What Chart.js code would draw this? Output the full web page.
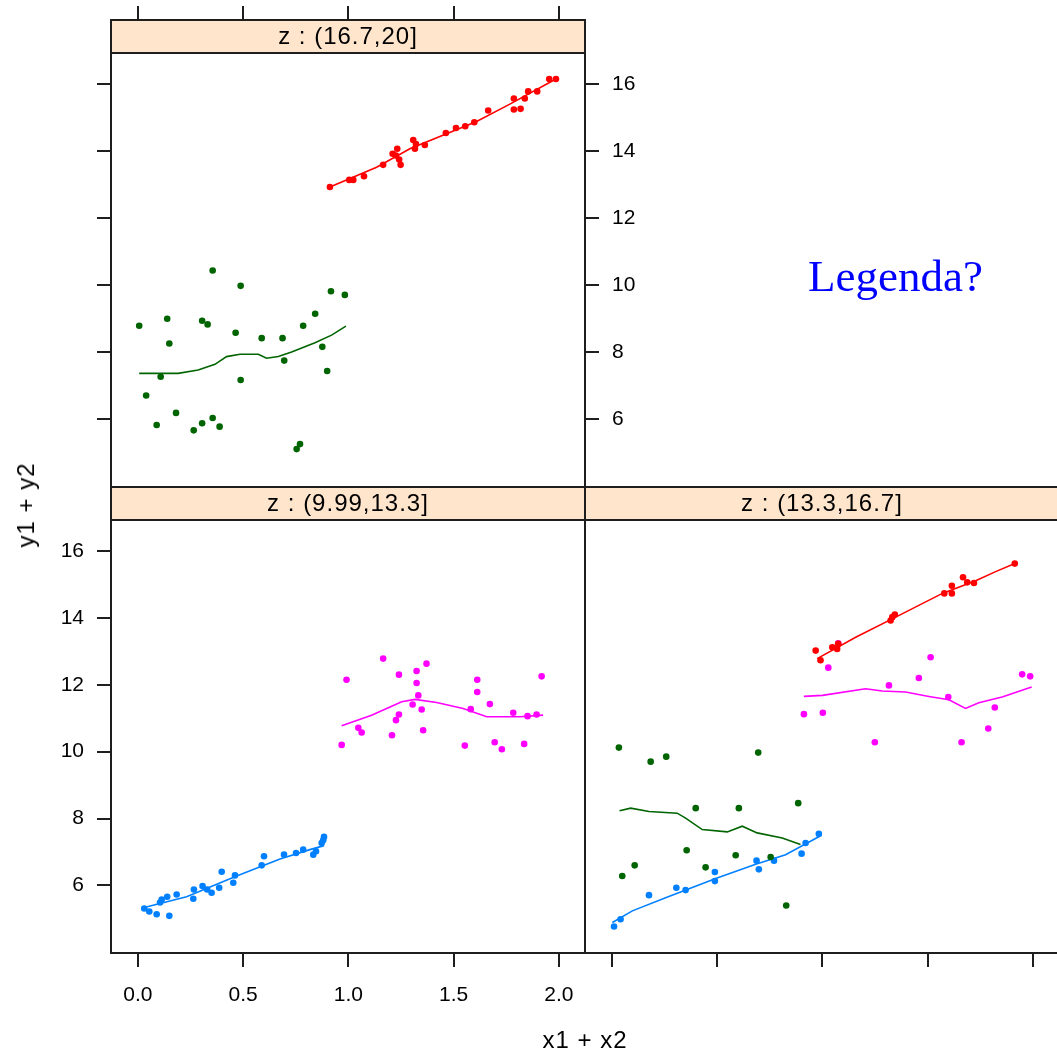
<!DOCTYPE html>
<html><head><meta charset="utf-8">
<script src="https://cdn.jsdelivr.net/npm/chart.js@4.4.1/dist/chart.umd.min.js"></script>
<style>
html,body{margin:0;padding:0;background:#fff;overflow:hidden;width:1057px;height:1052px;position:relative;}
canvas{position:absolute;left:0;top:0;}
.lbl{position:absolute;font-family:"Liberation Sans",Arial,sans-serif;font-size:24px;color:#000;white-space:nowrap;letter-spacing:1px;line-height:28px;}
#legenda{position:absolute;left:808px;top:254px;font-family:"Liberation Serif","Times New Roman",serif;font-size:45px;line-height:45px;color:#0000FF;white-space:nowrap;}
</style></head><body>
<canvas id="tl" width="1070" height="1052"></canvas>
<canvas id="bl" width="1070" height="1052"></canvas>
<canvas id="br" width="1070" height="1052"></canvas>
<div id="legenda">Legenda?</div>
<div class="lbl" id="xlab" style="left:585px;top:1026px;transform:translateX(-50%);">x1 + x2</div>
<div class="lbl" id="ylab" style="left:26px;top:505px;transform:translate(-50%,-50%) rotate(-90deg);">y1 + y2</div>
<script>
// ---- tick values / labels ----
const xTickValues = [0, 0.5, 1.0, 1.5, 2.0];
const xTickLabels = ["0.0", "0.5", "1.0", "1.5", "2.0"];
const yTickValues = [6, 8, 10, 12, 14, 16];
const yTickLabels = ["6", "8", "10", "12", "14", "16"];
const stripTL = "z : (16.7,20]";
const stripBL = "z : (9.99,13.3]";
const stripBR = "z : (13.3,16.7]";

// ---- top-left panel z:(16.7,20] ----
const tlRedX = [0.912,1.004,1.023,1.074,1.165,1.210,1.232,1.226,1.241,1.248,1.308,1.321,1.316,1.363,1.463,1.511,1.555,1.598,1.664,1.786,1.818,1.786,1.838,1.854,1.897,1.954,1.986];
const tlRedY = [12.93,13.14,13.14,13.25,13.59,13.92,14.07,13.87,13.75,13.59,14.33,14.21,14.07,14.18,14.54,14.69,14.74,14.86,15.21,15.24,15.26,15.57,15.57,15.78,15.78,16.15,16.15];
const tlRedLineX = [0.912,1.134,1.292,1.609,1.767,1.986];
const tlRedLineY = [12.93,13.52,14.07,14.88,15.40,16.15];
const tlGreenX = [0.355,0.488,0.917,0.983,0.006,0.139,0.305,0.331,0.464,0.588,0.687,0.785,0.842,0.149,0.876,0.695,0.899,0.108,0.488,0.039,0.181,0.089,0.265,0.305,0.355,0.388,0.770,0.754];
const tlGreenY = [10.44,9.98,9.82,9.71,8.79,9.00,8.94,8.83,8.58,8.42,8.42,8.79,9.15,8.26,8.16,7.75,7.44,7.27,7.17,6.71,6.19,5.83,5.67,5.88,6.04,5.78,5.26,5.11];
const tlGreenLineX = [0.006,0.191,0.286,0.366,0.421,0.485,0.572,0.611,0.667,0.730,0.841,0.920,0.988];
const tlGreenLineY = [7.37,7.37,7.47,7.64,7.87,7.94,7.94,7.82,7.87,8.01,8.28,8.51,8.78];

// ---- bottom-left panel z:(9.99,13.3] ----
const blBlueX = [0.030,0.054,0.089,0.149,0.105,0.113,0.139,0.184,0.263,0.266,0.307,0.329,0.350,0.386,0.398,0.453,0.461,0.588,0.599,0.694,0.751,0.785,0.833,0.846,0.873,0.884,0.880];
const blBlueY = [5.31,5.22,5.14,5.09,5.49,5.58,5.66,5.73,5.60,5.88,5.98,5.88,5.78,5.93,6.41,6.08,6.30,6.60,6.87,6.92,6.97,7.07,6.92,7.02,7.27,7.45,7.35];
const blBlueLineX = [0.030,0.231,0.469,0.675,0.817,0.884];
const blBlueLineY = [5.34,5.66,6.28,6.79,7.07,7.19];
const blMagX = [1.165,1.371,1.324,1.240,0.991,1.918,1.612,1.324,1.612,1.332,1.305,1.348,1.672,1.581,1.783,1.851,1.894,1.240,1.226,1.047,1.063,1.355,1.207,0.968,1.553,1.695,1.729,1.835];
const blMagY = [12.78,12.63,12.41,12.30,12.15,12.25,12.15,12.05,11.78,11.68,11.41,11.26,11.42,11.27,11.16,11.06,11.11,11.11,10.94,10.71,10.57,10.64,10.49,10.20,10.18,10.28,10.07,10.23];
const blMagLineX = [0.968,1.110,1.253,1.316,1.419,1.545,1.657,1.815,1.925];
const blMagLineY = [10.77,11.09,11.49,11.56,11.47,11.29,11.04,11.04,11.09];

// ---- bottom-right panel z:(13.3,16.7] ----
const brGreenX = [0.033,0.184,0.258,0.695,0.398,0.603,0.885,0.355,0.588,0.754,0.108,0.049,0.445,0.828];
const brGreenY = [10.12,9.70,9.85,9.97,8.31,8.31,8.46,7.05,6.90,6.85,6.60,6.28,6.54,5.40];
const brGreenLineX = [0.036,0.089,0.176,0.310,0.350,0.429,0.548,0.619,0.690,0.809,0.896];
const brGreenLineY = [8.23,8.31,8.21,8.16,8.01,7.67,7.60,7.77,7.57,7.42,7.22];
const brBlueX = [0.010,0.041,0.176,0.306,0.350,0.489,0.489,0.687,0.698,0.770,0.901,0.920,0.983];
const brBlueY = [4.77,4.99,5.71,5.93,5.86,6.40,6.13,6.74,6.48,6.74,6.95,7.27,7.54];
const brBlueLineX = [0.002,0.097,0.255,0.493,0.683,0.825,0.987];
const brBlueLineY = [4.89,5.24,5.63,6.21,6.63,6.92,7.47];
const brRedX = [0.968,0.991,1.047,1.070,1.075,1.324,1.344,1.332,1.579,1.615,1.615,1.668,1.688,1.720,1.914];
const brRedY = [13.02,12.73,13.12,13.07,13.22,13.92,14.10,14.02,14.73,14.96,14.73,15.21,15.06,15.04,15.62];
const brRedLineX = [0.975,1.158,1.348,1.570,1.728,1.823,1.914];
const brRedLineY = [12.78,13.42,14.02,14.73,15.11,15.38,15.62];
const brMagX = [1.075,1.028,1.514,1.458,1.316,1.949,1.987,1.598,0.912,1.002,1.819,1.788,1.249,1.661];
const brMagY = [13.24,12.51,12.82,12.20,11.98,12.31,12.25,11.63,11.12,11.16,11.32,10.69,10.28,10.28];
const brMagLineX = [0.912,1.000,1.205,1.284,1.395,1.506,1.601,1.680,1.743,1.854,1.994];
const brMagLineY = [11.65,11.68,11.88,11.81,11.78,11.65,11.55,11.29,11.46,11.63,11.93];

// ---- styling ----
const BLUE = '#0080FF', MAG = '#FF00FF', GREEN = '#006400', RED = '#FF0000';
const AX = '#1e1e1e';
const FONT = '"Liberation Sans", Arial, sans-serif';
const X_MIN = -0.128, X_MAX = 2.124, Y_MIN = 3.98, Y_MAX = 17.91;
const STRIP_H = 33;
const CW = 1070, CH = 1052;

function toPts(xs, ys){ return xs.map((x, i) => ({x: x, y: ys[i]})); }
function pts(xs, ys, col){
  return {data: toPts(xs, ys), backgroundColor: col, borderColor: col, pointRadius: 3.3, pointBorderWidth: 0, borderWidth: 0, showLine: false};
}
function line(xs, ys, col){
  return {data: toPts(xs, ys), borderColor: col, backgroundColor: col, borderWidth: 1.6, pointRadius: 0, showLine: true, fill: false, tension: 0};
}
function setTicks(vals){ return s => { s.ticks = vals.map(v => ({value: v})); }; }
function zeroPad(s){ s.paddingTop = 0; s.paddingBottom = 0; s.paddingLeft = 0; s.paddingRight = 0; }
const gridCfg = {display: true, drawOnChartArea: false, drawTicks: true, tickLength: 14, color: AX, lineWidth: 2, tickColor: AX, tickWidth: 2};

function xScale(pos, showLabels, h){
  return {type: 'linear', position: pos, min: X_MIN, max: X_MAX,
    afterBuildTicks: setTicks(xTickValues),
    afterFit: s => { s.height = h; zeroPad(s); },
    ticks: {display: showLabels, autoSkip: false, maxRotation: 0, color: '#000', padding: 16,
      font: {family: FONT, size: 21}, callback: (v, i) => xTickLabels[i]},
    grid: gridCfg, border: {display: false}};
}
function yScale(pos, showLabels, w, display){
  return {type: 'linear', position: pos, min: Y_MIN, max: Y_MAX, display: display,
    afterBuildTicks: setTicks(yTickValues),
    afterFit: s => { s.width = w; zeroPad(s); },
    ticks: {display: showLabels, color: '#000', padding: 13,
      font: {family: FONT, size: 21}, callback: (v, i) => yTickLabels[i]},
    grid: gridCfg, border: {display: false}};
}
function panelPlugin(text){
  return {id: 'panel', afterDraw(chart){
    const ctx = chart.ctx, a = chart.chartArea;
    ctx.save();
    ctx.fillStyle = '#FFE5CC';
    ctx.fillRect(a.left, a.top, a.right - a.left, STRIP_H);
    ctx.strokeStyle = AX; ctx.lineWidth = 2;
    ctx.strokeRect(a.left, a.top, a.right - a.left, a.bottom - a.top);
    ctx.beginPath(); ctx.moveTo(a.left, a.top + STRIP_H); ctx.lineTo(a.right, a.top + STRIP_H); ctx.stroke();
    ctx.fillStyle = '#000'; ctx.font = '24px ' + FONT; ctx.textAlign = 'center'; ctx.textBaseline = 'middle';
    try { ctx.letterSpacing = '1px'; } catch(e) {}
    ctx.fillText(text, (a.left + a.right) / 2, a.top + STRIP_H / 2 + 1);
    ctx.restore();
  }};
}
function makeChart(id, datasets, scales, padding, stripText){
  return new Chart(document.getElementById(id), {
    type: 'scatter',
    data: {datasets: datasets},
    options: {responsive: false, animation: false, events: [],
      layout: {padding: padding},
      plugins: {legend: {display: false}, tooltip: {enabled: false}, title: {display: false}},
      scales: scales},
    plugins: [panelPlugin(stripText)]
  });
}

// top-left: chart area 111..585 x 20..487
makeChart('tl', [
  pts(tlRedX, tlRedY, RED), line(tlRedLineX, tlRedLineY, RED),
  pts(tlGreenX, tlGreenY, GREEN), line(tlGreenLineX, tlGreenLineY, GREEN)
], {
  x: xScale('top', false, 20),
  y: yScale('left', false, 111, true),
  y2: yScale('right', true, CW - 585, true)
}, {left: 0, right: 0, top: 0, bottom: CH - 487}, stripTL);

// bottom-left: chart area 111..585 x 487..953
makeChart('bl', [
  pts(blBlueX, blBlueY, BLUE), line(blBlueLineX, blBlueLineY, BLUE),
  pts(blMagX, blMagY, MAG), line(blMagLineX, blMagLineY, MAG)
], {
  x: xScale('bottom', true, CH - 953),
  y: yScale('left', true, 111, true)
}, {left: 0, right: CW - 585, top: 487, bottom: 0}, stripBL);

// bottom-right: chart area 585..1059 x 487..953
makeChart('br', [
  pts(brRedX, brRedY, RED), line(brRedLineX, brRedLineY, RED),
  pts(brGreenX, brGreenY, GREEN), line(brGreenLineX, brGreenLineY, GREEN),
  pts(brMagX, brMagY, MAG), line(brMagLineX, brMagLineY, MAG),
  pts(brBlueX, brBlueY, BLUE), line(brBlueLineX, brBlueLineY, BLUE)
], {
  x: xScale('bottom', false, CH - 953),
  y: yScale('left', false, 0, false)
}, {left: 585, right: CW - 1059, top: 487, bottom: 0}, stripBR);
</script>
</body></html>
